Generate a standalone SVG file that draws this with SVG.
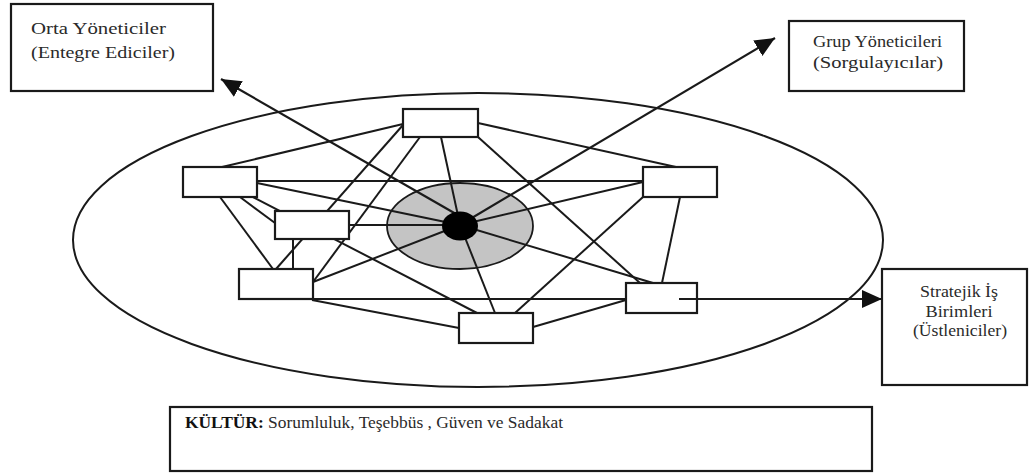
<svg xmlns="http://www.w3.org/2000/svg" width="1029" height="474" viewBox="0 0 1029 474">
<style>
.box{fill:#fff;stroke:#1a1a1a;stroke-width:2.2}
.ln{stroke:#1a1a1a;stroke-width:2;fill:none}
.arr{stroke:#1a1a1a;stroke-width:2.2;fill:none;marker-end:url(#ah)}
.t{font-family:"Liberation Serif","Times New Roman",serif;font-size:16px;fill:#2a2a2a}
.tb{font-weight:bold;fill:#111}
</style>
<defs>
<marker id="ah" markerUnits="userSpaceOnUse" markerWidth="22" markerHeight="20" refX="20" refY="9" orient="auto">
<path d="M0,0 L20,9 L0,18 z" fill="#111"/>
</marker>
</defs>
<rect width="1029" height="474" fill="#fff"/>
<g id="culture-ellipse"><ellipse cx="478" cy="240" rx="405" ry="147" fill="none" stroke="#1a1a1a" stroke-width="2"/></g>
<g id="hub"><ellipse cx="460" cy="226" rx="73" ry="43" fill="#c4c4c4" stroke="#1a1a1a" stroke-width="1.8"/></g>
<g id="connectors">
<line class="ln" x1="257" y1="181" x2="643" y2="181"/>
<line class="ln" x1="349" y1="225" x2="460" y2="225"/>
<line class="ln" x1="313" y1="299" x2="626" y2="299"/>
<line class="ln" x1="222" y1="167" x2="403" y2="124"/>
<line class="ln" x1="478" y1="123" x2="676" y2="167"/>
<line class="ln" x1="441" y1="137" x2="460" y2="225"/>
<line class="ln" x1="403" y1="125" x2="276" y2="269"/>
<line class="ln" x1="420" y1="137" x2="313" y2="282"/>
<line class="ln" x1="220" y1="197" x2="273" y2="269"/>
<line class="ln" x1="240" y1="197" x2="275" y2="223"/>
<line class="ln" x1="253" y1="197" x2="477" y2="313"/>
<line class="ln" x1="257" y1="183" x2="460" y2="225"/>
<line class="ln" x1="293" y1="239" x2="293" y2="269"/>
<line class="ln" x1="313" y1="282" x2="460" y2="225"/>
<line class="ln" x1="312" y1="300" x2="459" y2="328"/>
<line class="ln" x1="460" y1="225" x2="495" y2="313"/>
<line class="ln" x1="515" y1="313" x2="643" y2="197"/>
<line class="ln" x1="533" y1="327" x2="626" y2="300"/>
<line class="ln" x1="662" y1="283" x2="680" y2="197"/>
<line class="ln" x1="460" y1="225" x2="653" y2="283"/>
<line class="ln" x1="478" y1="137" x2="640" y2="283"/>
<line class="ln" x1="460" y1="225" x2="643" y2="182"/>
<line class="arr" x1="456" y1="214" x2="221" y2="79"/>
<line class="arr" x1="460" y1="225" x2="775" y2="38"/>
</g>
<g id="n-top"><rect class="box" x="403" y="109" width="75" height="28"/></g>
<g id="n-left"><rect class="box" x="183" y="167" width="74" height="30"/></g>
<g id="n-midleft"><rect class="box" x="275" y="211" width="74" height="28"/></g>
<g id="n-lowleft"><rect class="box" x="239" y="269" width="74" height="30"/></g>
<g id="n-right"><rect class="box" x="643" y="167" width="74" height="30"/></g>
<g id="n-lowright"><rect class="box" x="626" y="283" width="71" height="30"/></g>
<g id="n-bottom"><rect class="box" x="459" y="313" width="74" height="30"/></g>
<g id="core"><ellipse cx="460" cy="226" rx="18" ry="14.5" fill="#000"/></g>
<g id="connectors-top">
<line class="arr" x1="679" y1="299" x2="882" y2="299"/>
</g>
<g id="orta">
<rect class="box" x="11" y="4" width="202" height="87"/>
<text class="t" x="31" y="34" font-size="17" textLength="135" lengthAdjust="spacingAndGlyphs">Orta Yöneticiler</text>
<text class="t" x="31" y="58" font-size="17" textLength="144" lengthAdjust="spacingAndGlyphs">(Entegre Ediciler)</text>
</g>
<g id="grup">
<rect class="box" x="789" y="21" width="175" height="70"/>
<text class="t" x="813" y="47" textLength="129" lengthAdjust="spacingAndGlyphs">Grup Yöneticileri</text>
<text class="t" x="813" y="68" textLength="130" lengthAdjust="spacingAndGlyphs">(Sorgulayıcılar)</text>
</g>
<g id="stratejik">
<rect class="box" x="882" y="269" width="145" height="116"/>
<text class="t" x="959" y="297" text-anchor="middle" font-size="15" textLength="78" lengthAdjust="spacingAndGlyphs">Stratejik İş</text>
<text class="t" x="959" y="317" text-anchor="middle" font-size="15" textLength="67" lengthAdjust="spacingAndGlyphs">Birimleri</text>
<text class="t" x="960" y="336" text-anchor="middle" font-size="15" textLength="94" lengthAdjust="spacingAndGlyphs">(Üstleniciler)</text>
</g>
<g id="kultur">
<rect class="box" x="170" y="407" width="702" height="64"/>
<text class="t" x="185" y="428" font-size="16" textLength="378" lengthAdjust="spacingAndGlyphs"><tspan class="tb">KÜLTÜR:</tspan> Sorumluluk, Teşebbüs , Güven ve Sadakat</text>
</g>
</svg>
